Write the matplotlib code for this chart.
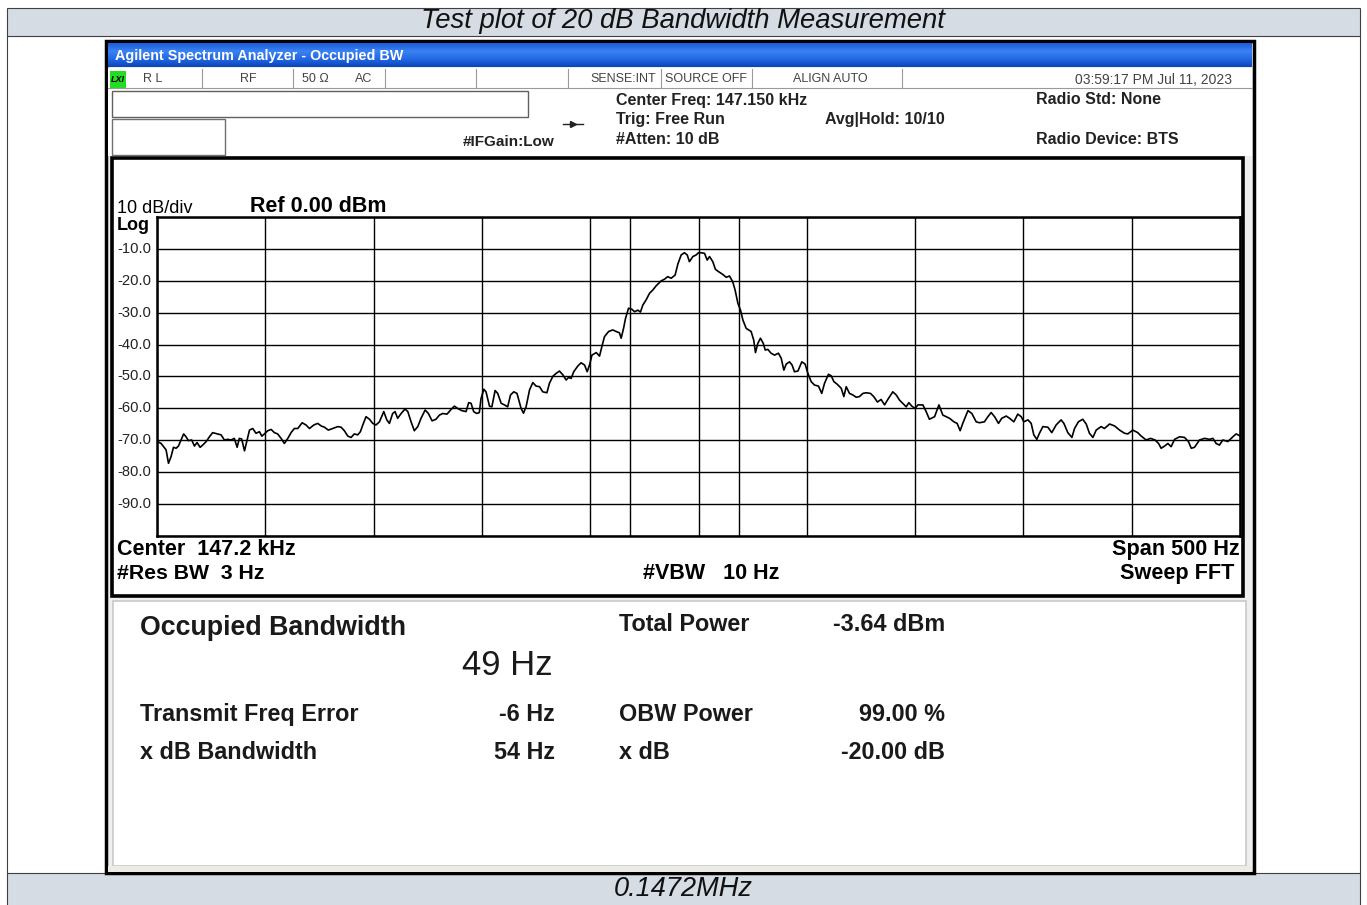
import numpy as np
import matplotlib
matplotlib.use("Agg")
import matplotlib.pyplot as plt
from matplotlib.patches import Rectangle
from matplotlib.colors import LinearSegmentedColormap
from matplotlib.transforms import blended_transform_factory

plt.rcParams["font.family"] = ["Liberation Sans", "DejaVu Sans"]

W, H = 1367, 905

# trace: offset from 147.150 kHz centre (Hz) and level (dBm)
freq_hz = [
    -250.4, -248.1, -245.8, -244.7, -243.5, -242.4, -241.2, -240.1, -238.9, -237.7,
    -236.6, -235.5, -234.0, -232.7, -231.5, -230.1, -228.9, -227.3, -225.8, -224.3,
    -222.0, -220.4, -218.9, -217.3, -215.8, -214.3, -213.0, -212.0, -210.9, -209.6,
    -208.4, -207.3, -205.8, -204.3, -202.7, -201.6, -200.4, -198.9, -197.3, -195.8,
    -194.3, -192.7, -191.2, -189.6, -188.1, -186.6, -185.0, -183.0, -181.2, -179.6,
    -177.6, -175.8, -174.2, -172.7, -170.9, -168.9, -166.5, -165.0, -163.5, -161.9,
    -160.4, -158.9, -157.3, -156.1, -155.0, -153.5, -151.9, -150.4, -148.9, -147.3,
    -145.3, -143.9, -142.7, -141.2, -140.1, -138.9, -137.3, -135.5, -134.2, -132.7,
    -131.2, -129.6, -128.1, -126.2, -124.7, -123.0, -121.2, -119.6, -118.1, -116.1,
    -114.2, -112.7, -111.2, -109.3, -107.3, -106.1, -105.0, -103.8, -102.4, -101.2,
    -100.4, -99.1, -98.1, -96.5, -95.4, -93.9, -92.7, -91.1, -89.6, -88.1,
    -86.8, -85.3, -83.8,
    -81.9, -80.8, -79.6, -78.0, -76.5, -75.0, -73.4, -71.9, -70.0, -68.8,
    -67.2, -65.7, -64.2, -62.6, -61.1, -60.0, -58.8, -57.6, -55.7, -54.2,
    -52.6, -51.4, -50.3, -49.2, -47.2, -45.7, -44.6, -43.4, -41.5, -39.6,
    -38.0, -36.5, -35.7, -34.6, -33.7, -32.3, -30.8, -29.5, -28.0, -26.8,
    -25.7, -24.2, -22.6, -21.1, -19.6, -17.2, -15.7, -14.2, -12.6, -10.8,
    -9.5, -8.0, -6.5, -5.2, -4.2, -2.6, -1.1, 0.0, 1.2, 2.8,
    4.0, 5.1, 6.6, 7.8, 9.2, 11.2, 12.8, 14.3, 15.8, 16.9,
    18.2, 19.4, 20.5, 22.0, 24.3, 25.5, 26.3, 27.4, 28.6, 29.9,
    30.8, 32.0, 33.5, 35.1, 36.9, 38.2, 39.4, 40.5, 42.0, 43.2,
    44.3, 45.9, 47.7, 49.2, 50.5, 52.0, 53.6, 55.4, 56.9, 58.2,
    60.0, 61.3, 62.5, 64.0, 65.9, 67.1, 68.2, 69.7, 71.3, 72.8,
    74.3, 75.9, 77.4, 79.4, 80.9, 82.6,
    84.3, 85.9, 87.4, 89.7, 91.3, 92.8, 94.3, 95.9, 97.1, 98.5,
    100.0, 101.3, 103.6, 105.1, 106.6, 109.0, 111.0, 112.8, 114.4, 115.9,
    117.9, 119.4, 120.8, 122.0, 124.4, 126.2, 128.2, 129.7, 132.0, 133.6,
    135.1, 136.7, 138.5, 140.0, 142.1, 143.6, 145.6, 147.4, 149.0, 150.2,
    152.1, 153.6, 154.8, 156.2, 157.4, 159.0, 161.3, 163.1, 165.1, 167.4,
    168.7, 170.5, 172.4, 173.6, 175.4, 177.4, 179.0, 180.5, 182.1, 183.6,
    185.9, 187.4, 189.8, 192.1, 194.4, 196.7, 198.2, 200.5, 202.8, 204.4,
    206.7, 208.7, 210.8, 212.4, 213.6, 215.2, 216.7, 218.2, 219.8, 222.1,
    224.4, 226.2, 227.5, 229.0, 231.3, 233.6, 235.9, 237.5, 239.0, 240.5,
    242.1, 244.4, 246.7, 248.2, 250.0,
]
level_dbm = [
    -70.1, -71.0, -73.0, -77.2, -75.1, -72.2, -72.5, -71.8, -69.9, -68.0,
    -68.9, -70.1, -69.9, -71.8, -70.7, -72.2, -71.5, -70.4, -68.9, -67.6,
    -68.0, -68.3, -69.9, -69.7, -69.9, -69.4, -72.2, -69.4, -69.6, -73.3,
    -69.9, -66.8, -66.3, -67.8, -67.3, -68.7, -68.0, -67.0, -66.6, -67.6,
    -68.0, -69.4, -71.0, -69.4, -67.6, -66.3, -66.3, -64.5, -65.2, -66.3,
    -65.2, -64.7, -65.5, -65.9, -66.8, -66.3, -65.7, -65.9, -67.0, -68.7,
    -69.1, -68.0, -68.3, -67.3, -65.2, -62.6, -63.4, -64.7, -65.2, -64.2,
    -61.0, -63.6, -64.7, -61.6, -61.0, -63.1, -61.6, -60.2, -61.0, -64.2,
    -67.0, -65.7, -63.1, -60.5, -61.6, -63.9, -63.4, -62.1, -61.6, -61.8,
    -60.3, -59.3, -60.0, -60.7, -61.0, -58.2, -58.4, -61.0, -61.6, -61.3,
    -56.9, -54.0, -54.8, -59.3, -59.5, -54.4, -55.3, -58.4, -58.9, -59.5,
    -55.8, -54.8, -55.3,
    -60.0, -61.5, -59.5, -54.2, -51.9, -53.0, -53.2, -54.8, -55.1, -52.1,
    -49.9, -49.0, -48.3, -49.5, -51.1, -50.3, -50.6, -48.5, -46.7, -45.7,
    -46.4, -48.5, -46.4, -43.3, -42.5, -43.6, -40.6, -37.5, -35.9, -35.4,
    -35.9, -36.3, -38.0, -34.9, -31.8, -28.6, -28.9, -29.7, -29.2, -29.8,
    -27.6, -26.0, -23.9, -22.9, -21.6, -20.0, -19.5, -18.7, -19.2, -18.2,
    -14.7, -11.9, -11.2, -11.9, -14.0, -12.4, -11.9, -11.2, -11.2, -11.4,
    -13.5, -12.4, -14.0, -16.4, -17.1, -18.0, -18.9, -18.5, -20.3, -22.9,
    -27.1, -29.2, -32.3, -34.9, -35.9, -38.6, -42.5, -39.6, -38.0, -39.6,
    -41.7, -41.5, -42.7, -43.3, -42.7, -44.3, -48.0, -46.1, -45.4, -46.4,
    -48.5, -48.3, -45.4, -46.1, -49.0, -51.6, -52.7, -53.0, -55.3, -52.1,
    -49.3, -49.8, -51.6, -52.4, -53.7, -56.3, -53.2, -55.3, -55.8, -56.5,
    -56.3, -55.3, -55.1, -55.3, -56.3, -58.0,
    -57.2, -58.9, -57.2, -54.8, -55.8, -57.4, -58.4, -59.5, -58.2, -59.3,
    -60.0, -58.9, -58.9, -61.0, -63.4, -62.6, -58.9, -62.1, -62.6, -63.1,
    -64.2, -64.7, -67.0, -64.7, -60.7, -61.6, -64.2, -64.5, -64.2, -62.6,
    -61.3, -62.6, -64.7, -63.1, -62.4, -63.1, -64.2, -61.8, -62.6, -64.2,
    -63.6, -64.7, -68.3, -69.7, -67.8, -65.7, -65.9, -67.6, -65.2, -63.6,
    -64.7, -67.6, -69.1, -66.3, -64.2, -63.4, -64.9, -67.8, -69.1, -66.8,
    -65.7, -66.3, -64.9, -65.5, -66.8, -67.8, -68.0, -66.8, -67.6, -68.7,
    -69.9, -69.4, -69.9, -71.0, -72.5, -71.8, -71.0, -72.0, -69.7, -68.9,
    -69.1, -70.4, -72.5, -72.2, -69.9, -69.4, -69.7, -69.4, -71.0, -71.5,
    -69.9, -70.4, -68.9, -68.0, -68.6,
]

obw_edges_hz = [-31.4, 18.5]
span_hz = 500
ref_dbm = 0.0
db_per_div = 10
y_labels = ["-10.0", "-20.0", "-30.0", "-40.0", "-50.0", "-60.0", "-70.0", "-80.0", "-90.0"]

status_cells = [("R L", 143), ("RF", 240), ("50 \u03a9", 302), ("AC", 355),
                ("SENSE:INT", 590), ("SOURCE OFF", 665), ("ALIGN AUTO", 793)]
status_dividers = [202, 293, 385, 476, 568, 661, 752, 902]
timestamp = "03:59:17 PM Jul 11, 2023"

setup_left = ["Center Freq: 147.150 kHz", "Trig: Free Run", "#Atten: 10 dB"]
setup_right = ["Radio Std: None", "", "Radio Device: BTS"]
avg_hold = "Avg|Hold: 10/10"

result_labels_left = ["Transmit Freq Error", "x dB Bandwidth"]
result_values_left = ["-6 Hz", "54 Hz"]
result_labels_right = ["Total Power", "OBW Power", "x dB"]
result_values_right = ["-3.64 dBm", "99.00 %", "-20.00 dB"]
obw_value = "49 Hz"

fig = plt.figure(figsize=(W / 100, H / 100), dpi=100)
bg = fig.add_axes([0, 0, 1, 1])
bg.set_xlim(0, W)
bg.set_ylim(H, 0)
bg.axis("off")


def box(x0, y0, x1, y1, **kw):
    bg.add_patch(Rectangle((x0, y0), x1 - x0, y1 - y0, **kw))


# report table around the screenshot
band = "#d6dce4"
box(7, 8, 1360, 36, facecolor=band, edgecolor="#404040", lw=0.8, zorder=1)
box(7, 873, 1360, 906, facecolor=band, edgecolor="#404040", lw=0.8, zorder=1)
bg.plot([7, 7], [36, 873], color="#404040", lw=0.8, zorder=1)
bg.plot([1360, 1360], [36, 873], color="#404040", lw=0.8, zorder=1)
bg.text(683, 21, "Test plot of 20 dB Bandwidth Measurement", ha="center", va="center",
        fontsize=19.8, style="italic", color="#111111")
bg.text(683, 889, "0.1472MHz", ha="center", va="center", fontsize=19.5,
        style="italic", color="#111111")

# analyzer window
box(106, 41, 1254, 873, facecolor="#efefef", edgecolor="black", lw=2.5, zorder=1)
cmap = LinearSegmentedColormap.from_list("bar", ["#1b5cdc", "#3b82f2", "#2269e4", "#0d45bd"])
bg.imshow(np.linspace(0, 1, 24)[:, None], cmap=cmap, aspect="auto",
          extent=(108, 1252, 67, 43), zorder=2)
bg.set_xlim(0, W)
bg.set_ylim(H, 0)
bg.text(115, 56, "Agilent Spectrum Analyzer - Occupied BW", ha="left", va="center",
        fontsize=10.4, fontweight="bold", color="white", zorder=3)

# status row + setup area
box(108, 68, 1252, 156, facecolor="white", edgecolor="none", zorder=2)
bg.plot([108, 1252], [88, 88], color="#9a9a9a", lw=0.8, zorder=3)
for xd in status_dividers:
    bg.plot([xd, xd], [69, 88], color="#9a9a9a", lw=0.8, zorder=3)
box(110, 71, 126, 88, facecolor="#22dd22", edgecolor="none", zorder=3)
bg.text(118, 79.5, "LXI", ha="center", va="center", fontsize=6.5, fontweight="bold",
        style="italic", color="black", zorder=4)
for label, xs in status_cells:
    bg.text(xs, 79.5, label, ha="left", va="center", fontsize=9, color="#444444", zorder=4)
bg.text(1232, 79.5, timestamp, ha="right", va="center", fontsize=10, color="#444444", zorder=4)

box(112, 91, 528, 117, facecolor="white", edgecolor="#606060", lw=1.0, zorder=3)
box(112, 119, 225, 155, facecolor="white", edgecolor="#707070", lw=1.0, zorder=3)
bg.text(463, 142, "#IFGain:Low", ha="left", va="center", fontsize=11,
        fontweight="bold", color="#222222", zorder=4)
bg.plot([563, 583], [124, 124], color="#222222", lw=1.0, zorder=4)
bg.plot([573], [124], marker=">", ms=4, color="#222222", zorder=4)
for i, s in enumerate(setup_left):
    bg.text(616, 100 + 19.5 * i, s, ha="left", va="center", fontsize=11.5,
            fontweight="bold", color="#222222", zorder=4)
for i, s in enumerate(setup_right):
    bg.text(1036, 100 + 19.5 * i, s, ha="left", va="center", fontsize=11.5,
            fontweight="bold", color="#222222", zorder=4)
bg.text(825, 119.5, avg_hold, ha="left", va="center", fontsize=11.5,
        fontweight="bold", color="#222222", zorder=4)

# trace frame
box(112, 158, 1243, 596, facecolor="white", edgecolor="black", lw=2.6, zorder=2)
bg.text(117, 208, "10 dB/div", ha="left", va="center", fontsize=13, color="black", zorder=4)
bg.text(250, 206, "Ref 0.00 dBm", ha="left", va="center", fontsize=15.5,
        fontweight="bold", color="black", zorder=4)
bg.text(117, 225, "Log", ha="left", va="center", fontsize=13, fontweight="bold",
        color="black", zorder=4)
bg.text(117, 549, "Center  147.2 kHz", ha="left", va="center", fontsize=15.5,
        fontweight="bold", color="black", zorder=4)
bg.text(117, 573, "#Res BW  3 Hz", ha="left", va="center", fontsize=15.3,
        fontweight="bold", color="black", zorder=4)
bg.text(711, 573, "#VBW   10 Hz", ha="center", va="center", fontsize=15.5,
        fontweight="bold", color="black", zorder=4)
bg.text(1240, 549, "Span 500 Hz", ha="right", va="center", fontsize=15.6,
        fontweight="bold", color="black", zorder=4)
bg.text(1234, 573, "Sweep FFT", ha="right", va="center", fontsize=15.6,
        fontweight="bold", color="black", zorder=4)

# results panel
box(113, 601, 1246, 866, facecolor="white", edgecolor="#c8c8c8", lw=1.2, zorder=2)
box(108, 866, 1252, 872, facecolor="#ecebe6", edgecolor="none", zorder=2)
bg.text(140, 628, "Occupied Bandwidth", ha="left", va="center", fontsize=19.3,
        fontweight="bold", color="#1a1a1a", zorder=4)
bg.text(462, 665, obw_value, ha="left", va="center", fontsize=25, color="#1a1a1a", zorder=4)
for i, (lab, val) in enumerate(zip(result_labels_left, result_values_left)):
    yy = 714 + 38 * i
    bg.text(140, yy, lab, ha="left", va="center", fontsize=16.8, fontweight="bold",
            color="#1a1a1a", zorder=4)
    bg.text(555, yy, val, ha="right", va="center", fontsize=16.8, fontweight="bold",
            color="#1a1a1a", zorder=4)
for lab, val, yy in zip(result_labels_right, result_values_right, [624, 714, 752]):
    bg.text(619, yy, lab, ha="left", va="center", fontsize=16.8, fontweight="bold",
            color="#1a1a1a", zorder=4)
    bg.text(945, yy, val, ha="right", va="center", fontsize=16.8, fontweight="bold",
            color="#1a1a1a", zorder=4)

# graticule and trace
x0, x1, y0, y1 = 157, 1240, 217, 536
ax = fig.add_axes([x0 / W, 1 - y1 / H, (x1 - x0) / W, (y1 - y0) / H])
ax.set_xlim(-span_hz / 2, span_hz / 2)
ax.set_ylim(ref_dbm - 10 * db_per_div, ref_dbm)
ax.set_xticks(np.linspace(-span_hz / 2, span_hz / 2, 11))
ax.set_yticks(np.arange(ref_dbm - 10 * db_per_div, ref_dbm + 1, db_per_div))
ax.grid(True, color="black", lw=1.0)
ax.tick_params(length=0, labelbottom=False, labelleft=False)
for sp in ax.spines.values():
    sp.set_linewidth(1.8)
    sp.set_color("black")
for edge in obw_edges_hz:
    ax.axvline(edge, color="black", lw=1.0)
ax.plot(freq_hz, level_dbm, color="black", lw=1.2)

lab_tf = blended_transform_factory(bg.transData, ax.transData)
for i, s in enumerate(y_labels):
    fig.text(117, ref_dbm - db_per_div * (i + 1), s, transform=lab_tf, ha="left",
             va="center", fontsize=10.6, color="#222222")

fig.savefig("out.png", dpi=100)
